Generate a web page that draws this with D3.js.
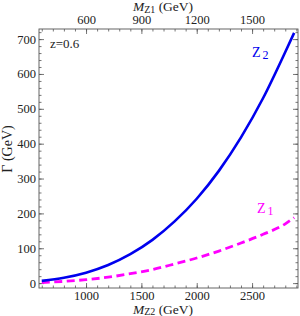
<!DOCTYPE html>
<html><head><meta charset="utf-8">
<script src="https://cdn.jsdelivr.net/npm/d3@7"></script>
<style>
html,body{margin:0;padding:0;background:#fff;}
svg text{font-family:"Liberation Serif","DejaVu Serif",serif;fill:#222;}
</style></head>
<body><svg id="c" width="300" height="316"></svg>
<script>
// Data
const mz2 = [600, 800, 1000, 1200, 1400, 1600, 1800, 2000, 2200, 2400, 2600, 2800, 2880];
const gammaZ2 = [6.5, 15.5, 30, 52, 83, 124, 177, 242, 322, 418, 531, 663, 718];
const gammaZ1 = [1.5, 5, 10, 17, 27, 39, 55, 72, 92, 115, 140, 170, 188];
const bottomTicks = [1000, 1500, 2000, 2500];
const topTicks = [600, 900, 1200, 1500];
const yTicks = [0, 100, 200, 300, 400, 500, 600, 700];
const zRatio = 0.6;

const svg = d3.select("#c");
const L = 39, R = 298, T = 29, B = 288;
const x = d3.scaleLinear().domain([575, 2915]).range([L, R]);
const xTop = d3.scaleLinear().domain([575 * zRatio, 2915 * zRatio]).range([L, R]);
const y = d3.scaleLinear().domain([-14, 729]).range([B, T]);

const frameColor = "#555";
const g = svg.append("g");

function minor(scale, step) {
  const [a, b] = scale.domain();
  return d3.range(Math.ceil(a / step) * step, b, step);
}

const fs = 12.5;
const bx = d3.axisBottom(x).tickValues(bottomTicks).tickSize(-5).tickPadding(3).tickFormat(d3.format("d"));
const bxm = d3.axisBottom(x).tickValues(minor(x, 100)).tickSize(-2.5).tickFormat("");
const tx = d3.axisTop(xTop).tickValues(topTicks).tickSize(-5).tickPadding(5).tickFormat(d3.format("d"));
const txm = d3.axisTop(xTop).tickValues(minor(xTop, 60)).tickSize(-2.5).tickFormat("");
const ly = d3.axisLeft(y).tickValues(yTicks).tickSize(-5).tickPadding(3).tickFormat(d3.format("d"));
const lym = d3.axisLeft(y).tickValues(minor(y, 20)).tickSize(-2.5).tickFormat("");
const ry = d3.axisRight(y).tickValues(yTicks).tickSize(-5).tickFormat("");
const rym = d3.axisRight(y).tickValues(minor(y, 20)).tickSize(-2.5).tickFormat("");

function place(ax, tr) {
  const a = g.append("g").attr("transform", tr).call(ax);
  a.select(".domain").remove();
  a.selectAll("line").attr("stroke", frameColor).attr("stroke-width", 0.8);
  a.selectAll("text").attr("font-size", fs).attr("fill", "#222")
   .attr("font-family", "Liberation Serif, serif");
  return a;
}
place(bxm, `translate(0,${B})`);
place(bx, `translate(0,${B})`);
place(txm, `translate(0,${T})`);
place(tx, `translate(0,${T})`);
place(lym, `translate(${L},0)`);
place(ly, `translate(${L},0)`);
place(rym, `translate(${R},0)`);
place(ry, `translate(${R},0)`);

g.append("rect").attr("x", L).attr("y", T).attr("width", R - L).attr("height", B - T)
  .attr("fill", "none").attr("stroke", frameColor).attr("stroke-width", 0.9);

// Curves
svg.append("clipPath").attr("id", "clp").append("rect")
  .attr("x", L).attr("y", T).attr("width", R - L).attr("height", B - T);
const line = (vals) => d3.line().curve(d3.curveMonotoneX)
  .x((d, i) => x(mz2[i])).y(d => y(d))(vals);

svg.append("path").attr("d", line(gammaZ1)).attr("fill", "none")
  .attr("stroke", "#ff00ff").attr("stroke-width", 2.8).attr("stroke-dasharray", "8,4.5")
  .attr("clip-path", "url(#clp)");
svg.append("path").attr("d", line(gammaZ2)).attr("fill", "none")
  .attr("stroke", "#0000ee").attr("stroke-width", 2.6)
  .attr("clip-path", "url(#clp)");

// Labels
svg.append("text").attr("x", 50).attr("y", 48).attr("font-size", 13).text("z=0.6");

const z2 = svg.append("text").attr("x", 252).attr("y", 57).attr("font-size", 14).style("fill", "#0000ee");
z2.append("tspan").text("Z");
z2.append("tspan").attr("dx", 2).attr("dy", 2).attr("font-size", 12).text("2");

const z1 = svg.append("text").attr("x", 257).attr("y", 213).attr("font-size", 14).style("fill", "#ff00ff");
z1.append("tspan").text("Z");
z1.append("tspan").attr("dx", 2).attr("dy", 2).attr("font-size", 12).text("1");

function axisTitle(xc, yb, sub) {
  const t = svg.append("text").attr("x", xc).attr("y", yb).attr("text-anchor", "middle").attr("font-size", 13.5);
  t.append("tspan").attr("font-style", "italic").text("M");
  t.append("tspan").attr("font-size", 10).attr("dy", 1.5).text(sub);
  t.append("tspan").attr("dy", -1.5).text(" (GeV)");
}
axisTitle(163, 11, "Z1");
axisTitle(163, 313.5, "Z2");

svg.append("text").attr("transform", "translate(12,149) rotate(-90)")
  .attr("text-anchor", "middle").attr("font-size", 14).text("Γ (GeV)");
</script>
</body></html>
